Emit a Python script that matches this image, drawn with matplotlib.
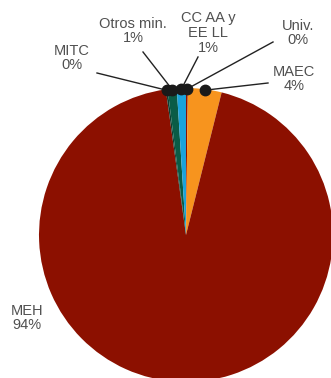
import numpy as np
import matplotlib.pyplot as plt

# Data (clockwise from the top)
labels = ["Univ.", "MAEC", "MEH", "MITC", "Otros min.", "CC AA y\nEE LL"]
shares = [0.2, 3.7, 93.9, 0.2, 1.0, 1.0]
pct_text = ["0%", "4%", "94%", "0%", "1%", "1%"]
colors = ["#8C1000", "#F7941E", "#8C1000", "#0E3F33", "#0A5C46", "#1AA3DB"]

W, H = 331, 378
fig = plt.figure(figsize=(W / 100, H / 100), dpi=100)
ax = fig.add_axes([0, 0, 1, 1])

cx, cy, r = 186, H - 235, 147
wedges, _ = ax.pie(shares, colors=colors, startangle=90, counterclock=False,
                   center=(cx, cy), radius=r,
                   wedgeprops=dict(linewidth=0))
ax.set_xlim(0, W)
ax.set_ylim(0, H)
ax.set_aspect("equal")
ax.axis("off")

# label text centre and line start (pixel coords, y down); None = no leader
label_pos = [(298, 33), (294, 79), (27, 318), (72, 58), (133, 31), (208, 33)]
line_start = [(273, 42), (268, 83), None, (97, 73), (143, 52), (198, 57)]

for w, lab, pct, pos, ls in zip(wedges, labels, pct_text, label_pos, line_start):
    ax.text(pos[0], H - pos[1], f"{lab}\n{pct}", ha="center", va="center",
            fontsize=10.5, color="#505050", family="Liberation Sans",
            linespacing=1.05)
    if ls is None:
        continue
    mid = np.deg2rad((w.theta1 + w.theta2) / 2)
    dx = cx + (r - 1) * np.cos(mid)
    dy = cy + (r - 1) * np.sin(mid)
    ax.plot([ls[0], dx], [H - ls[1], dy], color="#222222", lw=1, zorder=4)
    ax.plot(dx, dy, "o", color="#1a1a1a", ms=7.5, zorder=5)

fig.savefig("out.png", dpi=100)
